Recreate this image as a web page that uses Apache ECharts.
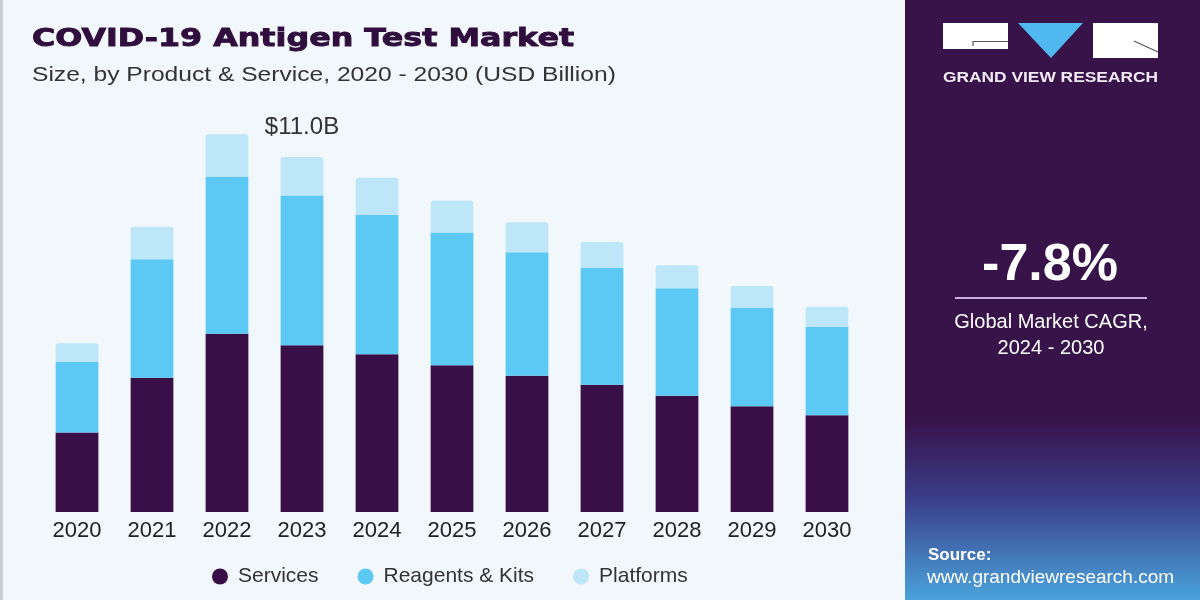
<!DOCTYPE html>
<html>
<head>
<meta charset="utf-8">
<script src="https://cdn.jsdelivr.net/npm/echarts@6/dist/echarts.min.js"></script>
<style>
html,body{margin:0;padding:0;background:#f2f7fb;}
#chart{width:1200px;height:600px;}
</style>
</head>
<body>
<div id="chart"></div>
<script>
const years = ['2020','2021','2022','2023','2024','2025','2026','2027','2028','2029','2030'];
const services = [2.46, 4.16, 5.52, 5.17, 4.89, 4.55, 4.22, 3.94, 3.60, 3.28, 3.00];
const reagentsKits = [2.19, 3.67, 4.86, 4.64, 4.32, 4.11, 3.83, 3.62, 3.33, 3.05, 2.74];
const platforms = [0.58, 1.01, 1.33, 1.19, 1.15, 0.99, 0.93, 0.81, 0.72, 0.67, 0.62];
const labelYearIndex = 3;
const labelText = '$11.0B';
const cagrText = '-7.8%';

const chart = echarts.init(document.getElementById('chart'));
const FONT = 'Liberation Sans';
const purple = '#37134a';

chart.setOption({
  backgroundColor: '#f2f7fb',
  textStyle: {fontFamily: FONT},
  graphic: [
    {type:'rect', shape:{x:0,y:0,width:3,height:600}, style:{fill:'#c9ccd2'}},
    {type:'rect', shape:{x:905,y:0,width:295,height:600}, style:{fill:purple}},
    {type:'rect', shape:{x:905,y:420,width:295,height:180}, style:{fill:{type:'linear',x:0,y:0,x2:0,y2:1,colorStops:[
      {offset:0,color:'rgba(55,19,74,1)'},{offset:0.45,color:'#3b3f8c'},{offset:1,color:'#4aa4dc'}]}}},
    // logo
    {type:'rect', shape:{x:943,y:23,width:65,height:26}, style:{fill:'#ffffff'}},
    {type:'polyline', shape:{points:[[973,46],[973,41.5],[1008,41.5]]}, style:{stroke:'#555',lineWidth:1.2,fill:null}},
    {type:'polygon', shape:{points:[[1018,23],[1083,23],[1051,58]]}, style:{fill:'#4fb8ee'}},
    {type:'rect', shape:{x:1093,y:23,width:65,height:35}, style:{fill:'#ffffff'}},
    {type:'line', shape:{x1:1134,y1:41,x2:1158,y2:52}, style:{stroke:'#555',lineWidth:1.2}},
    {type:'text', x:1050.5, y:78, scaleX:1.24, style:{text:'GRAND VIEW RESEARCH', fill:'#f1eaf5', font:'bold 14px "Liberation Sans"', textAlign:'center', textVerticalAlign:'middle'}},
    {type:'text', x:1050, y:266, style:{text:cagrText, fill:'#ffffff', font:'bold 52px "Liberation Sans"', textAlign:'center', textVerticalAlign:'middle'}},
    {type:'line', shape:{x1:955,y1:298,x2:1147,y2:298}, style:{stroke:'#c9abe0',lineWidth:2}},
    {type:'text', x:1051, y:322, style:{text:'Global Market CAGR,', fill:'#ffffff', font:'20px "Liberation Sans"', textAlign:'center', textVerticalAlign:'middle'}},
    {type:'text', x:1051, y:348, style:{text:'2024 - 2030', fill:'#ffffff', font:'20px "Liberation Sans"', textAlign:'center', textVerticalAlign:'middle'}},
    {type:'text', x:928, y:555, style:{text:'Source:', fill:'#ffffff', font:'bold 17px "Liberation Sans"', textVerticalAlign:'middle'}},
    {type:'text', x:927, y:578, style:{text:'www.grandviewresearch.com', fill:'#ffffff', font:'19px "Liberation Sans"', textVerticalAlign:'middle'}},
    // titles
    {type:'text', x:32, y:39, scaleX:1.27, style:{text:'COVID-19 Antigen Test Market', fill:'#2f0d3d', stroke:'#2f0d3d', lineWidth:0.9, font:'bold 25px "DejaVu Sans"', textVerticalAlign:'middle'}},
    {type:'text', x:32, y:75, scaleX:1.23, style:{text:'Size, by Product & Service, 2020 - 2030 (USD Billion)', fill:'#333333', font:'20px "Liberation Sans"', textVerticalAlign:'middle'}}
  ],
  grid: {left:39.5, right:335.5, top:92.5, bottom:88},
  xAxis: {
    type:'category', data: years,
    axisLine:{show:false}, axisTick:{show:false},
    axisLabel:{color:'#222', fontSize:22, margin:8, fontFamily:FONT}
  },
  yAxis: {type:'value', min:0, max:13, show:false, splitLine:{show:false}},
  legend: {
    bottom: 8, left: 207, icon:'circle', itemWidth:16, itemHeight:16, itemGap:39,
    textStyle:{color:'#333', fontSize:21, fontFamily:FONT, padding:[0,0,0,5]},
    data:['Services','Reagents & Kits','Platforms']
  },
  series: [
    {name:'Services', type:'bar', stack:'t', barWidth:'57%', data:services, itemStyle:{color:'#380f47'}},
    {name:'Reagents & Kits', type:'bar', stack:'t', data:reagentsKits, itemStyle:{color:'#5bc9f4'}},
    {name:'Platforms', type:'bar', stack:'t', data:platforms.map((v,i)=> i===labelYearIndex ? {value:v, label:{show:true}} : v),
      itemStyle:{color:'#bde7f8', borderRadius:[3,3,0,0]},
      label:{show:false, position:'top', distance:18, formatter:()=>labelText, color:'#333', fontSize:24, fontFamily:FONT}}
  ]
});
</script>
</body>
</html>
